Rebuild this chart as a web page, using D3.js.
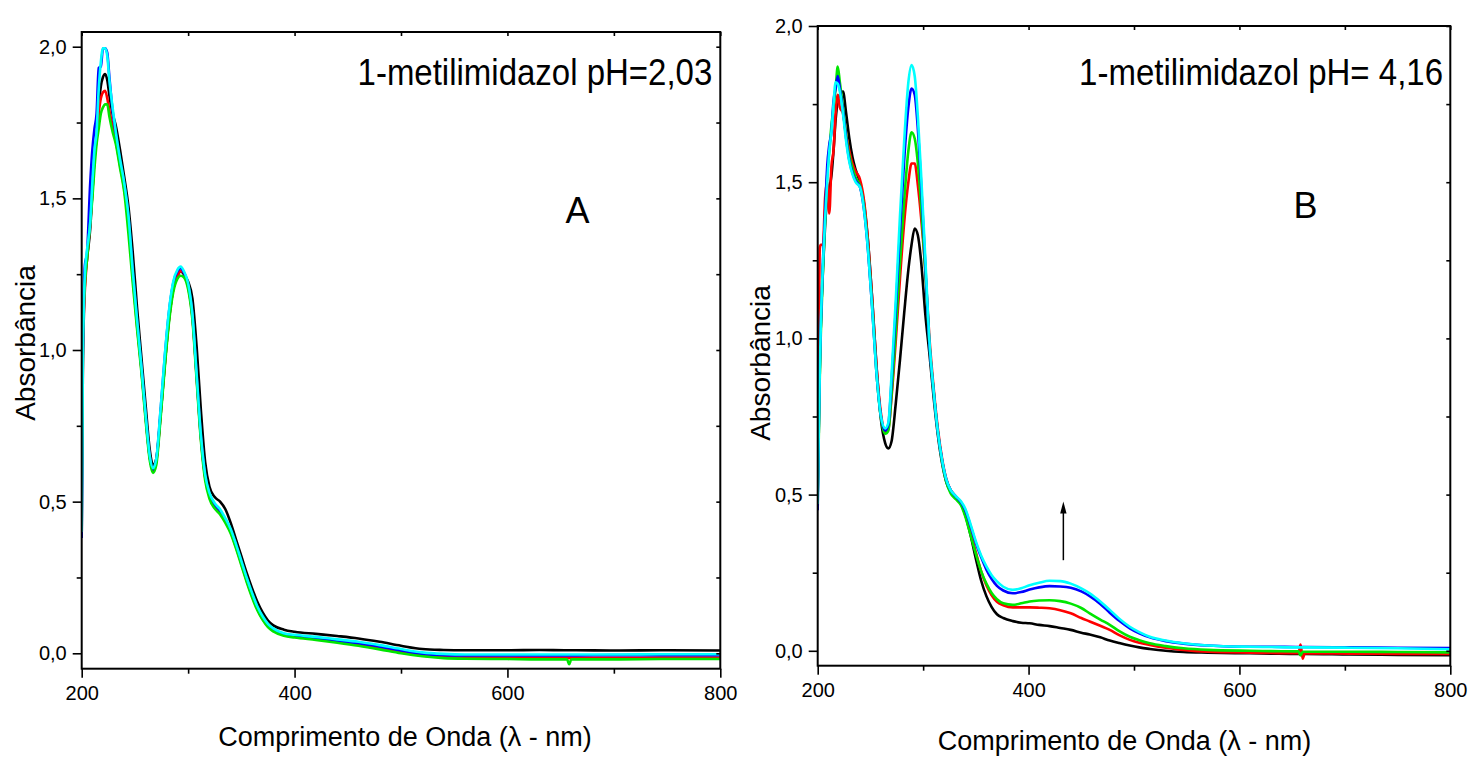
<!DOCTYPE html>
<html>
<head>
<meta charset="utf-8">
<script src="https://cdn.jsdelivr.net/npm/d3@7"></script>
<style>
  html, body { margin: 0; padding: 0; background: #fff; }
  svg { display: block; }
  text { font-family: "Liberation Sans", Arial, sans-serif; fill: #000; }
</style>
</head>
<body>
<svg id="chart" width="1470" height="758"></svg>
<script>
// ---- Panel A: 1-metilimidazol pH=2,03 ----
const wlA = [200, 201, 203, 205, 208, 210, 212, 214, 216, 218, 220, 222, 224, 226, 229, 232, 236, 240, 244, 248,
             252, 256, 260, 264, 267, 270, 274, 278, 282, 286, 290, 293, 296, 300, 304, 308, 312, 316, 320, 325,
             330, 335, 340, 345, 350, 355, 360, 365, 370, 375, 380, 390, 400, 420, 440, 460, 480, 500, 520, 540,
             560, 600, 630, 656, 658, 660, 662, 700, 750, 800];
const absA_black = [0.38, 0.90, 1.22, 1.30, 1.40, 1.52, 1.63, 1.70, 1.80, 1.87, 1.90, 1.91, 1.89, 1.84, 1.78, 1.74, 1.66, 1.57, 1.47, 1.32,
             1.14, 0.98, 0.82, 0.67, 0.62, 0.64, 0.78, 0.95, 1.10, 1.20, 1.245, 1.26, 1.25, 1.225, 1.17, 1.01, 0.80, 0.63, 0.55, 0.515,
             0.50, 0.475, 0.43, 0.375, 0.32, 0.265, 0.215, 0.17, 0.135, 0.108, 0.092, 0.078, 0.071, 0.064, 0.057, 0.049, 0.038, 0.025, 0.014, 0.011,
             0.010, 0.010, 0.011, 0.010, 0.010, 0.010, 0.010, 0.009, 0.010, 0.009];
const absA_red = [0.60, 1.00, 1.20, 1.30, 1.42, 1.52, 1.64, 1.70, 1.78, 1.83, 1.85, 1.855, 1.83, 1.79, 1.74, 1.69, 1.61, 1.53, 1.42, 1.24,
             1.08, 0.94, 0.78, 0.645, 0.60, 0.63, 0.78, 0.95, 1.10, 1.20, 1.245, 1.26, 1.255, 1.21, 1.11, 0.91, 0.71, 0.58, 0.52, 0.485,
             0.465, 0.437, 0.40, 0.35, 0.295, 0.24, 0.19, 0.146, 0.113, 0.089, 0.075, 0.060, 0.055, 0.047, 0.038, 0.028, 0.016, 0.003, -0.007, -0.012,
             -0.014, -0.015, -0.015, -0.015, -0.015, -0.015, -0.015, -0.015, -0.014, -0.014];
const absA_blue = [0.38, 1.00, 1.28, 1.32, 1.55, 1.66, 1.73, 1.78, 1.93, 1.935, 1.995, 1.995, 1.98, 1.90, 1.79, 1.715, 1.625, 1.545, 1.435, 1.255,
             1.095, 0.945, 0.785, 0.645, 0.605, 0.635, 0.795, 0.975, 1.125, 1.22, 1.26, 1.27, 1.255, 1.215, 1.115, 0.915, 0.715, 0.585, 0.525, 0.49,
             0.47, 0.44, 0.405, 0.355, 0.30, 0.245, 0.195, 0.15, 0.117, 0.092, 0.077, 0.061, 0.056, 0.049, 0.041, 0.033, 0.022, 0.009, -0.002, -0.006,
             -0.007, -0.007, -0.007, -0.007, -0.007, -0.007, -0.007, -0.006, -0.006, -0.006];
const absA_green = [0.55, 1.05, 1.22, 1.30, 1.42, 1.50, 1.60, 1.68, 1.73, 1.78, 1.80, 1.81, 1.81, 1.77, 1.72, 1.68, 1.60, 1.52, 1.38, 1.22,
             1.07, 0.93, 0.77, 0.635, 0.595, 0.62, 0.77, 0.94, 1.09, 1.19, 1.235, 1.245, 1.24, 1.20, 1.10, 0.90, 0.70, 0.57, 0.51, 0.477,
             0.458, 0.43, 0.395, 0.345, 0.29, 0.235, 0.185, 0.142, 0.110, 0.086, 0.072, 0.058, 0.052, 0.044, 0.035, 0.025, 0.013, 0.000, -0.010, -0.016,
             -0.018, -0.019, -0.020, -0.020, -0.036, -0.020, -0.020, -0.020, -0.019, -0.019];
const absA_cyan = [0.40, 0.95, 1.25, 1.33, 1.42, 1.55, 1.66, 1.72, 1.86, 1.95, 1.995, 1.995, 1.97, 1.89, 1.80, 1.72, 1.63, 1.55, 1.44, 1.26,
             1.10, 0.95, 0.79, 0.65, 0.61, 0.64, 0.80, 0.98, 1.13, 1.225, 1.265, 1.275, 1.26, 1.22, 1.12, 0.92, 0.72, 0.59, 0.53, 0.495,
             0.475, 0.445, 0.41, 0.36, 0.305, 0.25, 0.20, 0.155, 0.122, 0.097, 0.082, 0.066, 0.061, 0.054, 0.046, 0.038, 0.027, 0.014, 0.003, -0.002,
             -0.004, -0.004, -0.004, -0.004, -0.004, -0.004, -0.004, -0.004, -0.003, -0.003];

// ---- Panel B: 1-metilimidazol pH= 4,16 ----
const wlB = [200, 201, 202, 203, 205, 207, 209, 211, 213, 215, 217, 219, 221, 224, 227, 230, 233, 236, 240, 244,
             248, 252, 256, 260, 264, 267, 270, 274, 278, 282, 286, 289, 292, 295, 298, 302, 306, 310, 314, 318,
             322, 326, 331, 336, 340, 345, 350, 355, 360, 365, 370, 376, 385, 393, 401, 410, 420, 430, 440, 450,
             458, 468, 477, 486, 496, 505, 515, 530, 547, 570, 610, 630, 656, 658, 660, 662, 705, 750, 800];
const absB_black = [0.50, 0.70, 0.90, 1.05, 1.22, 1.36, 1.45, 1.48, 1.52, 1.60, 1.70, 1.76, 1.78, 1.79, 1.72, 1.64, 1.58, 1.54, 1.50, 1.43,
             1.30, 1.11, 0.90, 0.74, 0.665, 0.648, 0.67, 0.79, 0.93, 1.08, 1.22, 1.30, 1.352, 1.33, 1.25, 1.08, 0.95, 0.81, 0.69, 0.60,
             0.54, 0.51, 0.49, 0.47, 0.435, 0.37, 0.295, 0.225, 0.175, 0.14, 0.117, 0.105, 0.095, 0.090, 0.088, 0.083, 0.079, 0.073, 0.067, 0.058,
             0.052, 0.043, 0.033, 0.025, 0.017, 0.011, 0.006, 0.000, -0.004, -0.006, -0.008, -0.009, -0.010, -0.010, -0.010, -0.010, -0.012, -0.013, -0.014];
const absB_red = [0.80, 1.00, 1.29, 1.30, 1.30, 1.45, 1.50, 1.40, 1.55, 1.60, 1.72, 1.78, 1.74, 1.72, 1.65, 1.60, 1.56, 1.535, 1.51, 1.44,
             1.30, 1.11, 0.90, 0.76, 0.70, 0.71, 0.81, 0.99, 1.19, 1.37, 1.50, 1.56, 1.56, 1.49, 1.39, 1.22, 1.00, 0.84, 0.71, 0.615,
             0.55, 0.515, 0.494, 0.474, 0.44, 0.38, 0.315, 0.255, 0.21, 0.178, 0.157, 0.146, 0.139, 0.139, 0.139, 0.138, 0.136, 0.130, 0.120, 0.105,
             0.094, 0.080, 0.067, 0.050, 0.035, 0.026, 0.019, 0.010, 0.003, -0.003, -0.006, -0.007, -0.008, 0.020, -0.025, -0.008, -0.009, -0.010, -0.010];
const absB_green = [0.50, 0.68, 0.88, 1.02, 1.22, 1.38, 1.52, 1.60, 1.68, 1.74, 1.80, 1.87, 1.82, 1.74, 1.65, 1.585, 1.545, 1.515, 1.49, 1.42,
             1.28, 1.09, 0.88, 0.745, 0.695, 0.705, 0.82, 1.02, 1.24, 1.44, 1.60, 1.66, 1.64, 1.56, 1.43, 1.22, 0.98, 0.83, 0.70, 0.605,
             0.54, 0.505, 0.485, 0.465, 0.43, 0.37, 0.31, 0.255, 0.215, 0.185, 0.165, 0.152, 0.147, 0.152, 0.158, 0.161, 0.162, 0.159, 0.151, 0.137,
             0.120, 0.100, 0.083, 0.063, 0.045, 0.034, 0.024, 0.015, 0.008, 0.003, 0.000, -0.001, -0.002, -0.015, -0.003, -0.003, -0.003, -0.004, -0.005];
const absB_blue = [0.45, 0.72, 0.92, 1.05, 1.25, 1.40, 1.55, 1.62, 1.66, 1.76, 1.80, 1.84, 1.80, 1.73, 1.64, 1.57, 1.53, 1.505, 1.485, 1.41,
             1.27, 1.08, 0.88, 0.75, 0.705, 0.725, 0.86, 1.09, 1.34, 1.57, 1.74, 1.80, 1.78, 1.67, 1.50, 1.24, 0.98, 0.83, 0.70, 0.61,
             0.548, 0.515, 0.494, 0.475, 0.45, 0.40, 0.345, 0.30, 0.26, 0.23, 0.208, 0.193, 0.184, 0.188, 0.196, 0.203, 0.207, 0.206, 0.202, 0.190,
             0.175, 0.150, 0.122, 0.096, 0.072, 0.056, 0.043, 0.031, 0.023, 0.017, 0.013, 0.013, 0.012, 0.012, 0.012, 0.012, 0.011, 0.010, 0.009];
const absB_cyan = [0.47, 0.70, 0.90, 1.05, 1.24, 1.38, 1.50, 1.60, 1.66, 1.75, 1.82, 1.815, 1.79, 1.72, 1.63, 1.565, 1.525, 1.50, 1.485, 1.41,
             1.27, 1.08, 0.88, 0.75, 0.712, 0.73, 0.88, 1.12, 1.39, 1.63, 1.82, 1.875, 1.84, 1.71, 1.53, 1.26, 0.99, 0.83, 0.70, 0.61,
             0.548, 0.515, 0.495, 0.478, 0.455, 0.405, 0.35, 0.305, 0.27, 0.242, 0.222, 0.205, 0.195, 0.200, 0.210, 0.218, 0.224, 0.223, 0.215, 0.200,
             0.184, 0.158, 0.131, 0.103, 0.077, 0.060, 0.045, 0.033, 0.024, 0.017, 0.013, 0.012, 0.011, 0.011, 0.011, 0.011, 0.010, 0.008, 0.005];

// arrow in panel B: wavelength, start absorbance, end absorbance
const arrowB = [433, 0.29, 0.478];

const xTickMajor = [200, 400, 600, 800];
const xTickMinor = [300, 500, 700];
const yTickMajor = [0.0, 0.5, 1.0, 1.5, 2.0];
const yTickMinor = [0.25, 0.75, 1.25, 1.75];

const seriesColors = { black: "#000000", red: "#ff0000", blue: "#0000ff", green: "#00e600", cyan: "#00ffff" };

const xTitle = "Comprimento de Onda (\u03BB - nm)";
const yTitle = "Absorbância";

const locale = d3.formatLocale({ decimal: ",", thousands: ".", grouping: [3], currency: ["", ""] });
const fmtY = locale.format(".1f");

const svg = d3.select("#chart");

function drawPanel(cfg) {
  const x = d3.scaleLinear().domain([200, 800]).range([cfg.left, cfg.right]);
  const y = d3.scaleLinear().domain([cfg.yMin, cfg.yMax]).range([cfg.bottom, cfg.top]);
  const g = svg.append("g");

  const clipId = "clip-" + cfg.id;
  svg.append("clipPath").attr("id", clipId)
    .append("rect").attr("x", cfg.left).attr("y", cfg.top)
    .attr("width", cfg.right - cfg.left).attr("height", cfg.bottom - cfg.top);

  // spectra
  const line = d3.line().x(d => x(d[0])).y(d => y(d[1])).curve(d3.curveMonotoneX);
  const lines = g.append("g").attr("clip-path", `url(#${clipId})`);
  cfg.series.forEach(s => {
    lines.append("path")
      .datum(cfg.wl.map((w, i) => [w, s.values[i]]))
      .attr("fill", "none")
      .attr("stroke", seriesColors[s.color])
      .attr("stroke-width", 2.6)
      .attr("stroke-linejoin", "round")
      .attr("d", line);
  });

  // axes: bottom & left outward, top & right inward
  g.append("g").attr("transform", `translate(0,${cfg.bottom})`)
    .call(d3.axisBottom(x).tickValues(xTickMajor).tickSize(9).tickPadding(8).tickFormat(d3.format("d")));
  g.append("g").attr("transform", `translate(0,${cfg.bottom})`)
    .call(d3.axisBottom(x).tickValues(xTickMinor).tickSize(5).tickFormat(""));
  g.append("g").attr("transform", `translate(${cfg.left},0)`)
    .call(d3.axisLeft(y).tickValues(yTickMajor).tickSize(9).tickPadding(6).tickFormat(fmtY));
  g.append("g").attr("transform", `translate(${cfg.left},0)`)
    .call(d3.axisLeft(y).tickValues(yTickMinor).tickSize(5).tickFormat(""));
  g.append("g").attr("transform", `translate(0,${cfg.top})`)
    .call(d3.axisBottom(x).tickValues(xTickMajor.concat(xTickMinor)).tickSize(4).tickFormat(""));
  g.append("g").attr("transform", `translate(${cfg.right},0)`)
    .call(d3.axisRight(y).tickValues(yTickMajor.concat(yTickMinor)).tickSize(-4).tickFormat(""));

  g.selectAll(".domain").remove();
  g.selectAll(".tick line").attr("stroke", "#000").attr("stroke-width", 1.6);
  g.selectAll(".tick text").attr("font-size", 20).attr("fill", "#000")
    .style("font-family", '"Liberation Sans", Arial, sans-serif');

  // frame
  g.append("rect")
    .attr("x", cfg.left).attr("y", cfg.top)
    .attr("width", cfg.right - cfg.left).attr("height", cfg.bottom - cfg.top)
    .attr("fill", "none").attr("stroke", "#000").attr("stroke-width", 2);

  // titles
  g.append("text")
    .attr("x", cfg.xTitleX).attr("y", cfg.xTitleY)
    .attr("text-anchor", "middle").attr("font-size", 27)
    .text(xTitle);
  g.append("text")
    .attr("transform", `translate(${cfg.yTitleX},${cfg.yTitleY}) rotate(-90)`)
    .attr("text-anchor", "middle").attr("font-size", 28)
    .text(yTitle);

  // annotations
  g.append("text")
    .attr("transform", `translate(${cfg.right - cfg.noteRight},${cfg.top + cfg.noteDy}) scale(1,1.1)`)
    .attr("text-anchor", "end").attr("font-size", 33)
    .text(cfg.note);
  g.append("text")
    .attr("x", cfg.letterX).attr("y", cfg.letterY)
    .attr("text-anchor", "middle").attr("font-size", 36)
    .text(cfg.letter);

  return { x, y, g };
}

drawPanel({
  id: "a", left: 81.7, right: 720.3, top: 32, bottom: 668.7,
  yMin: -0.0508, yMax: 2.0485, wl: wlA,
  series: [
    { color: "black", values: absA_black },
    { color: "red", values: absA_red },
    { color: "blue", values: absA_blue },
    { color: "green", values: absA_green },
    { color: "cyan", values: absA_cyan }
  ],
  xTitleX: 405, xTitleY: 746, yTitleX: 35, yTitleY: 343,
  note: "1-metilimidazol pH=2,03", noteRight: 8, noteDy: 53, 
  letter: "A", letterX: 577.6, letterY: 222.5
});

const pB = drawPanel({
  id: "b", left: 817.7, right: 1450.3, top: 26, bottom: 665.7,
  yMin: -0.0477, yMax: 2.0, wl: wlB,
  series: [
    { color: "black", values: absB_black },
    { color: "red", values: absB_red },
    { color: "green", values: absB_green },
    { color: "blue", values: absB_blue },
    { color: "cyan", values: absB_cyan }
  ],
  xTitleX: 1124.5, xTitleY: 750, yTitleX: 770, yTitleY: 363,
  note: "1-metilimidazol pH= 4,16", noteRight: 7.3, noteDy: 59.4,
  letter: "B", letterX: 1305.6, letterY: 218
});

// arrow showing the growth of the 430 nm band
const ax = pB.x(arrowB[0]), ay0 = pB.y(arrowB[1]), ay1 = pB.y(arrowB[2]);
pB.g.append("line")
  .attr("x1", ax).attr("x2", ax).attr("y1", ay0).attr("y2", ay1 + 10)
  .attr("stroke", "#000").attr("stroke-width", 1.5);
pB.g.append("path")
  .attr("d", `M${ax},${ay1} L${ax - 3.2},${ay1 + 12} L${ax + 3.2},${ay1 + 12} Z`)
  .attr("fill", "#000");
</script>
</body>
</html>
